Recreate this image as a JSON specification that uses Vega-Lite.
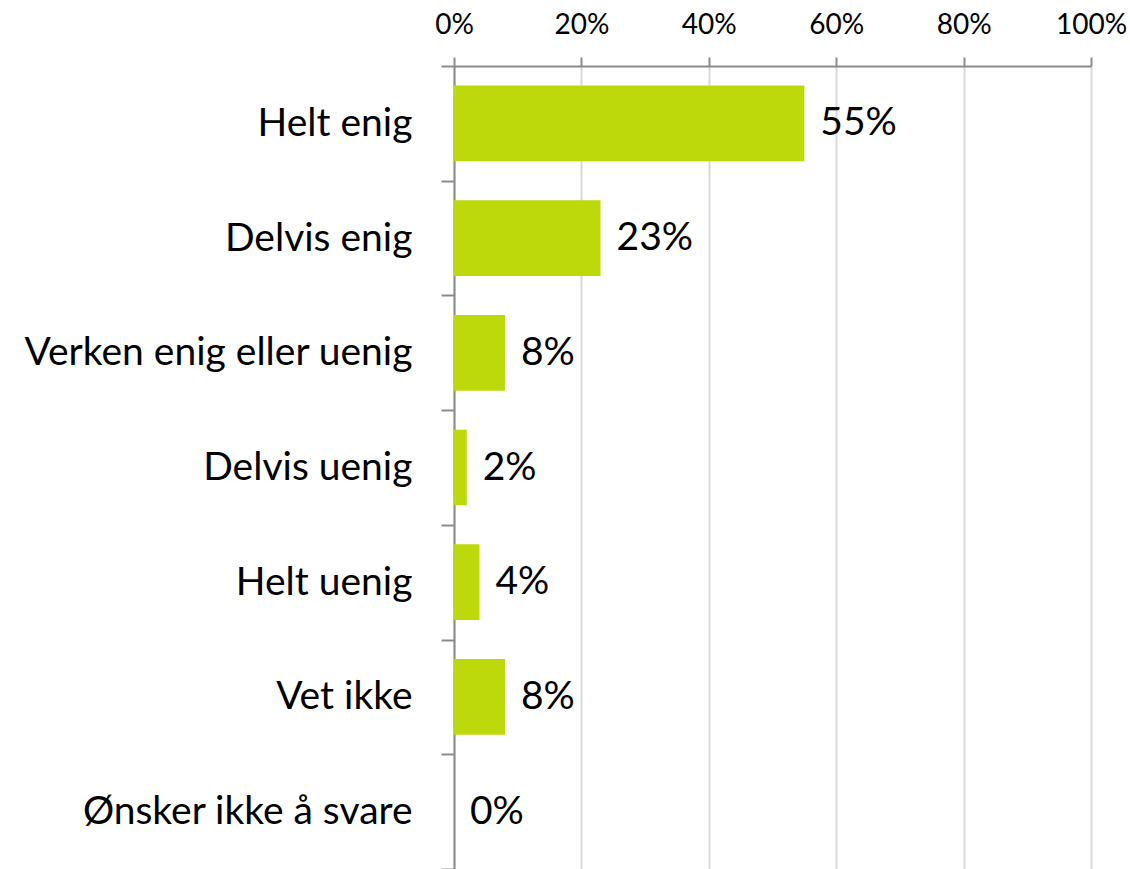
{
  "$schema": "https://vega.github.io/schema/vega-lite/v6.json",
  "width": 637,
  "height": 803,
  "autosize": {"type": "none"},
  "padding": {"left": 454, "top": 66, "right": 39, "bottom": 0},
  "background": "white",
  "config": {"view": {"stroke": null}, "font": "Lato"},
  "data": {"values": [
    {"kategori": "Helt enig", "andel": 0.55, "etikett": "55%"},
    {"kategori": "Delvis enig", "andel": 0.23, "etikett": "23%"},
    {"kategori": "Verken enig eller uenig", "andel": 0.08, "etikett": "8%"},
    {"kategori": "Delvis uenig", "andel": 0.02, "etikett": "2%"},
    {"kategori": "Helt uenig", "andel": 0.04, "etikett": "4%"},
    {"kategori": "Vet ikke", "andel": 0.08, "etikett": "8%"},
    {"kategori": "Ønsker ikke å svare", "andel": 0.0, "etikett": "0%"}
  ]},
  "encoding": {
    "y": {
      "field": "kategori", "type": "nominal", "sort": null,
      "scale": {"paddingInner": 0, "paddingOuter": 0},
      "axis": {
        "title": null, "orient": "left", "tickBand": "extent",
        "tickSize": 13, "tickColor": "#8c8c8c", "tickWidth": 2,
        "domainColor": "#8c8c8c", "domainWidth": 2,
        "labelFontSize": 39, "labelColor": "#000000", "labelPadding": 29,
        "labelFont": "Lato", "labelLimit": 600, "grid": false
      }
    },
    "x": {
      "field": "andel", "type": "quantitative",
      "scale": {"domain": [0, 1], "nice": false},
      "axis": {
        "title": null, "orient": "top", "format": ".0%", "values": [0, 0.2, 0.4, 0.6, 0.8, 1.0],
        "tickSize": 9, "tickColor": "#8c8c8c", "tickWidth": 2,
        "domainColor": "#8c8c8c", "domainWidth": 2,
        "grid": true, "gridColor": "#d9d9d9", "gridWidth": 2,
        "labelFontSize": 28, "labelColor": "#000000", "labelPadding": 18,
        "labelFlush": false, "labelOverlap": false, "labelBound": false,
        "labelFont": "Lato"
      }
    }
  },
  "layer": [
    {"mark": {"type": "bar", "color": "#bdd80b", "height": {"band": 0.66}}},
    {"mark": {"type": "text", "align": "left", "baseline": "middle", "dx": 16, "fontSize": 39, "font": "Lato", "color": "#000000"},
     "encoding": {"text": {"field": "etikett"}}}
  ]
}
